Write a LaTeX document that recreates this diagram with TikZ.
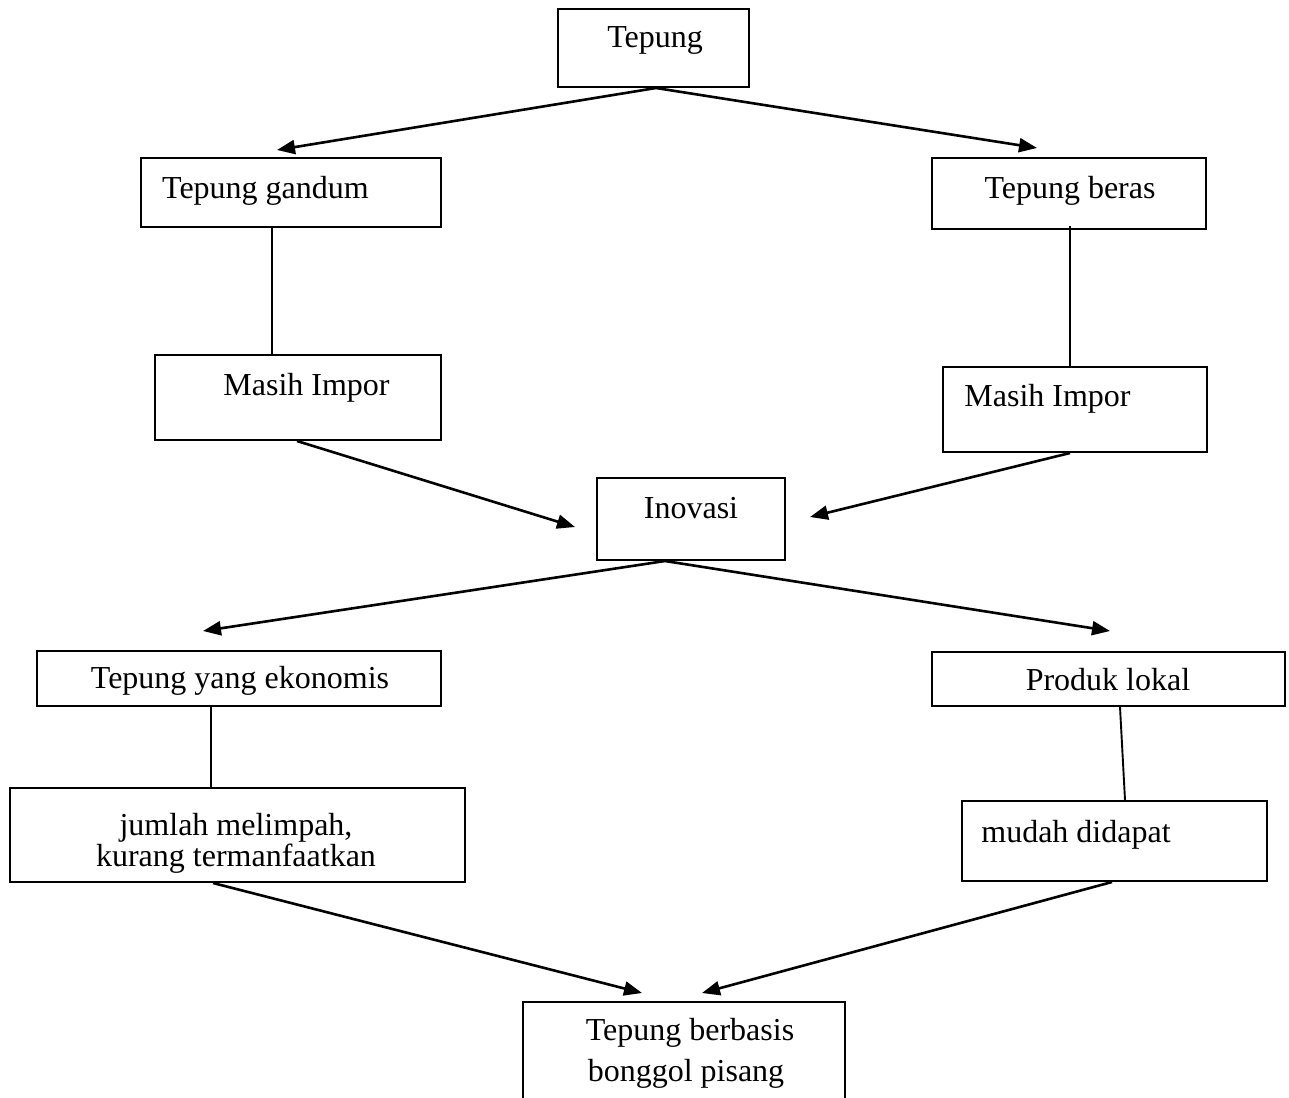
\documentclass[tikz,border=0pt]{standalone}
\usepackage{fontspec}
\setmainfont{Liberation Serif}
\usetikzlibrary{arrows.meta}
\begin{document}
\begin{tikzpicture}[x=1pt,y=-1pt,
  box/.style={draw, line width=2pt, inner sep=0pt},
  txt/.style={anchor=base, inner sep=0pt, font=\fontsize{32}{38}\selectfont},
  arr/.style={line width=2.6pt, -{Triangle[length=18pt,width=14pt]}},
  plain/.style={line width=1.9pt}]
\useasboundingbox (0,0) rectangle (1289,1097);
\fill[white] (0,0) rectangle (1289,1097);
\clip (0,0) rectangle (1289,1097);

% boxes
\node[box, minimum width=191pt, minimum height=78pt] (tepung) at (653.5,48) {};
\node[box, minimum width=300pt, minimum height=69pt] (gandum) at (291,192.5) {};
\node[box, minimum width=274pt, minimum height=71pt] (beras) at (1069,193.5) {};
\node[box, minimum width=286pt, minimum height=85pt] (impL) at (298,397.5) {};
\node[box, minimum width=264pt, minimum height=85pt] (impR) at (1075,409.5) {};
\node[box, minimum width=188pt, minimum height=82pt] (inov) at (691,519) {};
\node[box, minimum width=404pt, minimum height=55pt] (ekon) at (239,678.5) {};
\node[box, minimum width=353pt, minimum height=54pt] (lokal) at (1108.5,679) {};
\node[box, minimum width=455pt, minimum height=94pt] (jumlah) at (237.5,835) {};
\node[box, minimum width=305pt, minimum height=80pt] (mudah) at (1114.5,841) {};
\node[box, minimum width=322pt, minimum height=118pt] (berb) at (684,1061) {};

% texts
\node[txt] (xTepung) at (655,48) {Tepung};
\node[txt] (xGandum) at (265.5,198) {Tepung gandum};
\node[txt] (xBeras) at (1070,198) {Tepung beras};
\node[txt] (xImpL) at (306.5,395) {Masih Impor};
\node[txt] (xImpR) at (1047.5,406) {Masih Impor};
\node[txt] (xInov) at (691,518) {Inovasi};
\node[txt] (xEkon) at (240,688) {Tepung yang ekonomis};
\node[txt] (xLokal) at (1108,690) {Produk lokal};
\node[txt] (xJum1) at (236,835) {jumlah melimpah,};
\node[txt] (xJum2) at (236,866) {kurang termanfaatkan};
\node[txt] (xMudah) at (1076,842) {mudah didapat};
\node[txt] (xBerb1) at (690,1040) {Tepung berbasis};
\node[txt] (xBerb2) at (686,1081) {bonggol pisang};

% arrow tips
\coordinate (t1) at (277,150);
\coordinate (t2) at (1037,148);
\coordinate (t3) at (575,527);
\coordinate (t4) at (810,517);
\coordinate (t5) at (203,631);
\coordinate (t6) at (1110,631);
\coordinate (t7) at (642,993);
\coordinate (t8) at (702,993);

% connectors
\draw[arr] ([xshift=2.5pt]tepung.south) -- (t1);
\draw[arr] ([xshift=2.5pt]tepung.south) -- (t2);
\draw[plain] ([xshift=-19pt]gandum.south) -- ([xshift=-26pt]impL.north);
\draw[plain] ([xshift=1pt,yshift=4pt]beras.south) -- ([xshift=-5pt]impR.north);
\draw[arr] ([xshift=-1pt]impL.south) -- (t3);
\draw[arr] ([xshift=-5pt]impR.south) -- (t4);
\draw[arr] ([xshift=-26pt]inov.south) -- (t5);
\draw[arr] ([xshift=-26pt]inov.south) -- (t6);
\draw[plain] ([xshift=-28pt]ekon.south) -- ([xshift=-26.5pt]jumlah.north);
\draw[plain] ([xshift=11.5pt]lokal.south) -- ([xshift=10.5pt]mudah.north);
\draw[arr] ([xshift=-24.5pt]jumlah.south) -- (t7);
\draw[arr] ([xshift=-2.5pt]mudah.south) -- (t8);
\end{tikzpicture}
\end{document}
